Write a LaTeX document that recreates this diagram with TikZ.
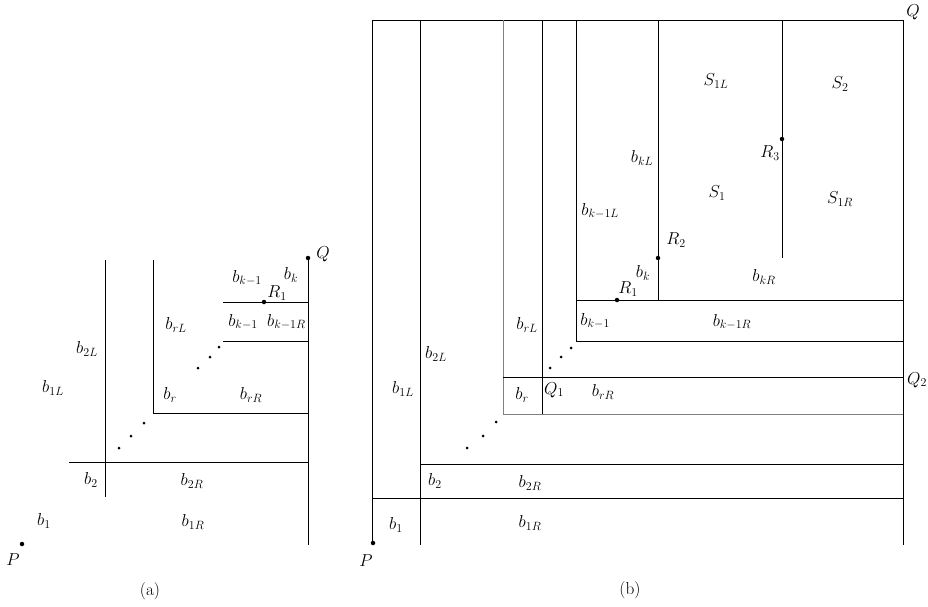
\documentclass[tikz,border=0pt]{standalone}
\usetikzlibrary{positioning}
\begin{document}
\begin{tikzpicture}[x=1pt,y=-1pt,font=\LARGE,line width=.9pt,
    pt/.style={circle,fill,inner sep=0pt,minimum size=4.5pt},
    dt/.style={circle,fill,inner sep=0pt,minimum size=3pt},
    lbl/.style={inner sep=1pt}]
  \useasboundingbox (0,0) rectangle (928,607);
  % (a)
  \draw (105,260)--(105,497);
  \draw (153,260)--(153,413)--(308,413);
  \draw (308,258)--(308,545);
  \draw (69,462)--(308,462);
  \draw (223,302)--(308,302);
  \draw (223,341)--(308,341);
  \node[pt] (aQ) at (308,258) {};
  \node[pt] (aR1) at (264,302) {};
  \node[pt] (aP) at (22,544) {};
  \foreach \x/\y in {219/347,210/357,198/368,144/423,131/436,119/448}
    \node[dt] at (\x,\y) {};
  \node[lbl] (aQl) at (323,254) {$Q$};
  \node[lbl] (aPl) at (13,560) {$P$};
  \node[lbl] (aR1l) at (277,293) {$R_1$};
  \node[lbl] (abkm) at (247,278) {$b_{k-1}$};
  \node[lbl] (abk) at (291,275) {$b_k$};
  \node[lbl] (abkm2) at (243,322) {$b_{k-1}$};
  \node[lbl,anchor=east] (abkmR) at (307,322) {$b_{k-1R}$};
  \node[lbl] (abrL) at (176,325) {$b_{rL}$};
  \node[lbl] (ab2L) at (87,349) {$b_{2L}$};
  \node[lbl] (ab1L) at (53,388) {$b_{1L}$};
  \node[lbl] (abr) at (170,395) {$b_r$};
  \node[lbl] (abrR) at (251,395) {$b_{rR}$};
  \node[lbl] (ab2) at (91,480) {$b_2$};
  \node[lbl] (ab2R) at (192,481) {$b_{2R}$};
  \node[lbl] (ab1) at (44,521) {$b_1$};
  \node[lbl] (ab1R) at (193,522) {$b_{1R}$};
  \node[lbl] (acap) at (150,591) {(a)};
  % (b)
  \draw (372,545)--(372,20)--(903,20)--(903,545);
  \draw (420,20)--(420,545);
  \draw[gray] (503,20)--(503,414)--(903,414);
  \draw (542,20)--(542,414);
  \draw (503,377)--(903,377);
  \draw (576,20)--(576,341)--(903,341);
  \draw (576,300)--(903,300);
  \draw (658,20)--(658,300);
  \draw (782,20)--(782,258);
  \draw (420,464)--(903,464);
  \draw (372,498)--(903,498);
  \node[pt] (bP) at (373,543) {};
  \node[pt] (bR1) at (617,300) {};
  \node[pt] (bR2) at (658,258) {};
  \node[pt] (bR3) at (782,139) {};
  \foreach \x/\y in {571/348,561/357,550/368,496/422,483/436,467/448}
    \node[dt] at (\x,\y) {};
  \node[lbl] (bQl) at (913,12) {$Q$};
  \node[lbl] (bQ2l) at (917,380) {$Q_2$};
  \node[lbl] (bQ1l) at (554,390) {$Q_1$};
  \node[lbl] (bPl) at (366,561) {$P$};
  \node[lbl] (bR1l) at (628,289) {$R_1$};
  \node[lbl] (bR2l) at (676,240) {$R_2$};
  \node[lbl] (bR3l) at (770,153) {$R_3$};
  \node[lbl] (bS1L) at (716,81) {$S_{1L}$};
  \node[lbl] (bS2) at (840,84) {$S_2$};
  \node[lbl] (bS1) at (717,193) {$S_1$};
  \node[lbl] (bS1R) at (840,199) {$S_{1R}$};
  \node[lbl] (bbkL) at (642,158) {$b_{kL}$};
  \node[lbl,anchor=west] (bbkmL) at (580,211) {$b_{k-1L}$};
  \node[lbl] (bbk) at (643,273) {$b_k$};
  \node[lbl] (bbkR) at (764,277) {$b_{kR}$};
  \node[lbl,anchor=west] (bbkm) at (579,321) {$b_{k-1}$};
  \node[lbl] (bbkmR) at (732,322) {$b_{k-1R}$};
  \node[lbl] (bbrL) at (527,325) {$b_{rL}$};
  \node[lbl] (bbr) at (522,395) {$b_r$};
  \node[lbl] (bbrR) at (603,392) {$b_{rR}$};
  \node[lbl] (bb2L) at (436,354) {$b_{2L}$};
  \node[lbl] (bb1L) at (403,389) {$b_{1L}$};
  \node[lbl] (bb2) at (435,481) {$b_2$};
  \node[lbl] (bb2R) at (530,483) {$b_{2R}$};
  \node[lbl] (bb1) at (396,525) {$b_1$};
  \node[lbl] (bb1R) at (530,523) {$b_{1R}$};
  \node[lbl] (bcap) at (630,590) {(b)};
\end{tikzpicture}
\end{document}
